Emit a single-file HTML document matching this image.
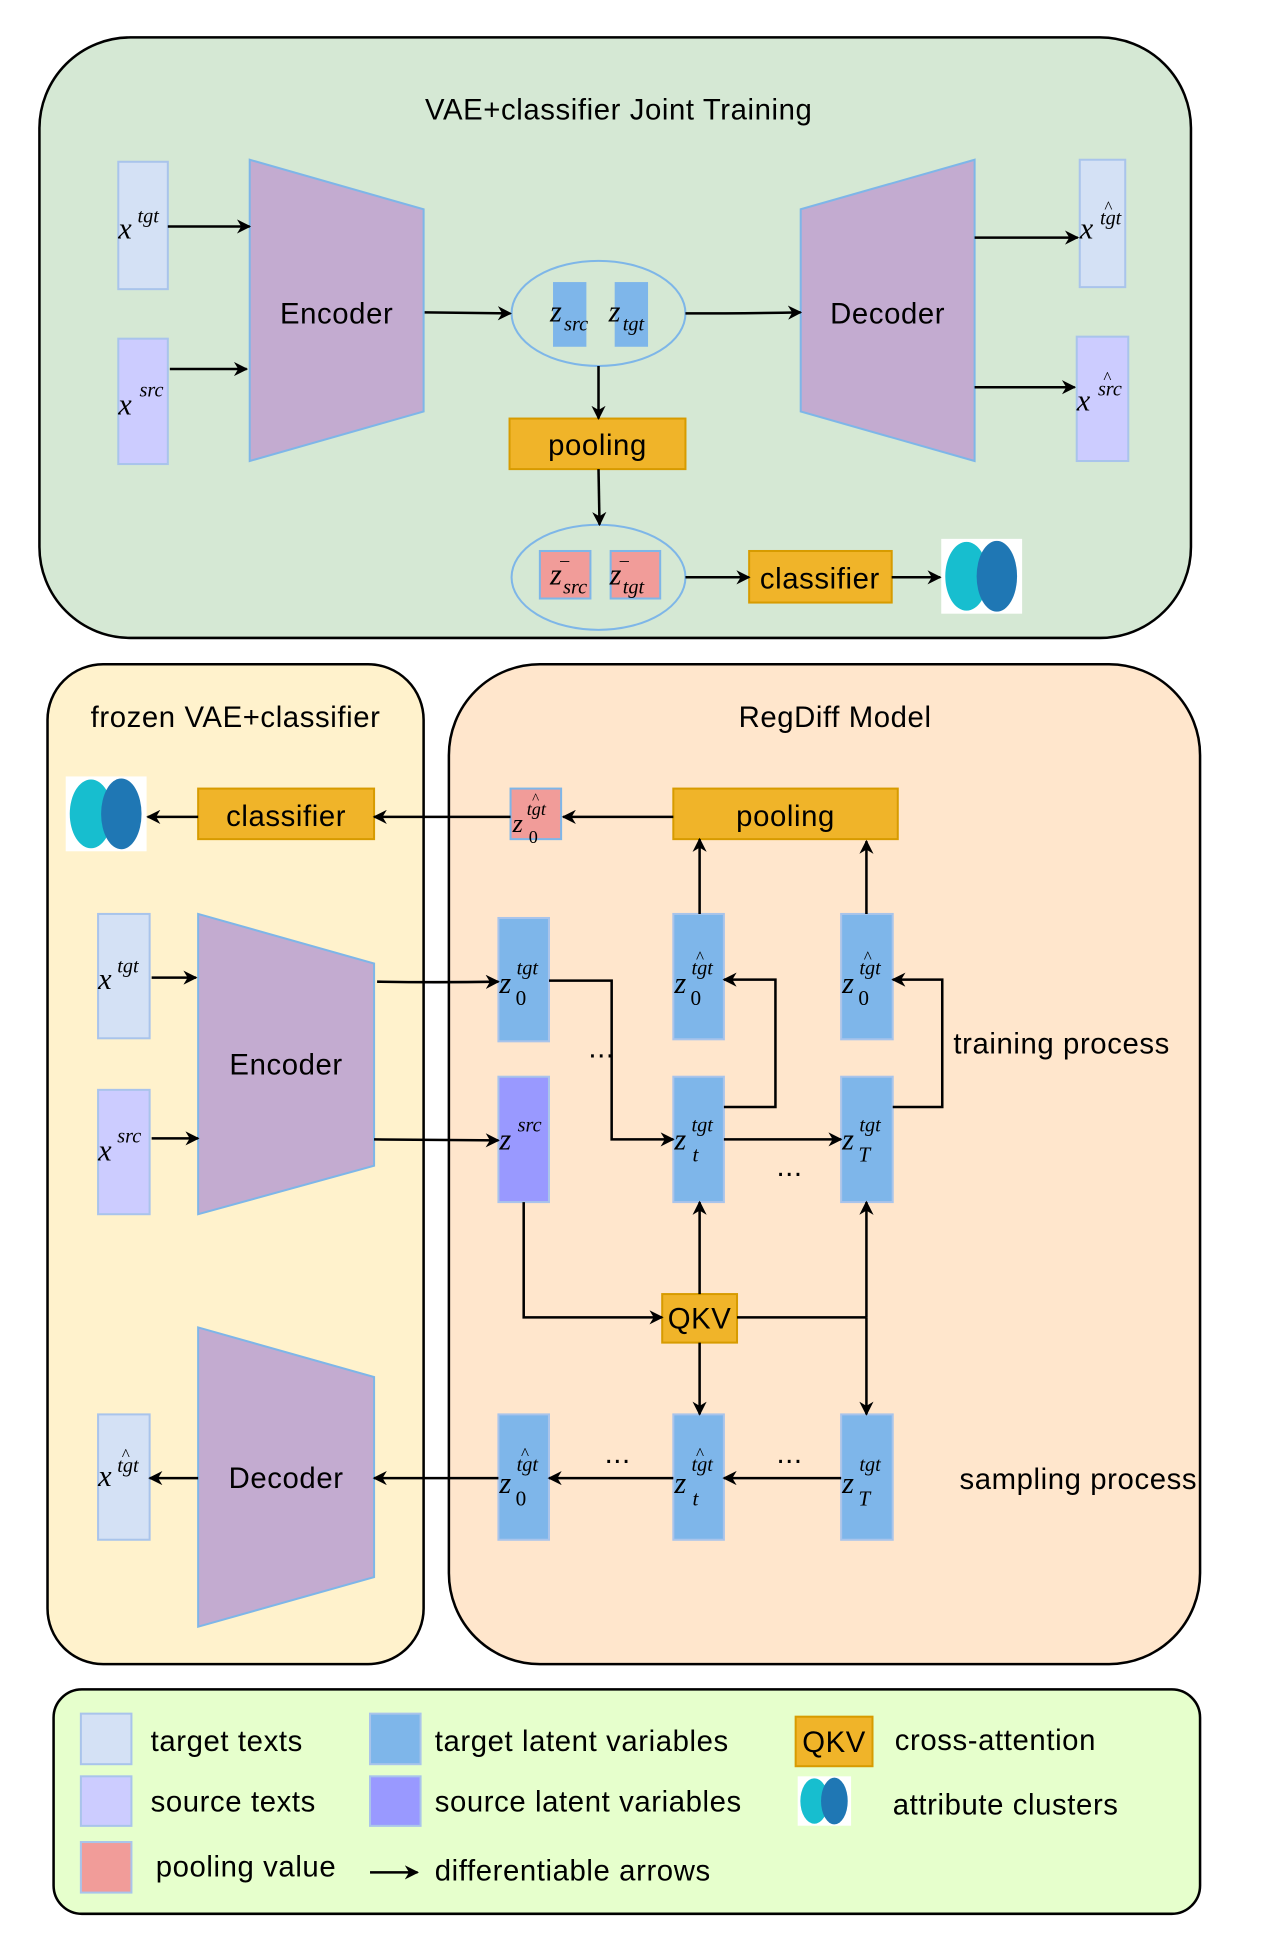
<!DOCTYPE html>
<html><head><meta charset="utf-8"><style>
body{margin:0;background:#fff}
svg{display:block}
.t{font-family:"Liberation Sans",sans-serif;font-size:29px;letter-spacing:0.6px;fill:#000}
.m{font-family:"Liberation Serif",serif;font-style:italic;fill:#000}
</style></head><body>
<svg width="1263" height="1953" viewBox="0 0 1263 1953" xmlns="http://www.w3.org/2000/svg">
<defs>
<marker id="b" viewBox="0 0 10 10" refX="9" refY="5" markerWidth="14" markerHeight="14" markerUnits="userSpaceOnUse" orient="auto"><path d="M0,0 L10,5 L0,10 L3,5 z" fill="#000"/></marker>
<g id="clu"><rect x="0" y="0" width="80" height="74" fill="#fff"/><ellipse cx="25" cy="37" rx="21" ry="34" fill="#17becf"/><ellipse cx="55" cy="37" rx="20" ry="35" fill="#1f77b4"/></g>
</defs>
<g transform="scale(1.011)">
<g stroke="#000" stroke-width="2.5">
<rect x="39" y="37" width="1139" height="594" rx="90" fill="#d5e8d4"/>
<rect x="47" y="657" width="372" height="989" rx="55" fill="#fff2cc"/>
<rect x="444" y="657" width="743" height="989" rx="90" fill="#ffe6cc"/>
<rect x="53" y="1671" width="1134" height="222" rx="28" fill="#e6ffcc"/>
</g>
<text class="t" x="612" y="118" text-anchor="middle">VAE+classifier Joint Training</text>
<text class="t" x="233" y="719" text-anchor="middle">frozen VAE+classifier</text>
<text class="t" x="826" y="719" text-anchor="middle">RegDiff Model</text>

<g stroke-width="2">
<rect x="117" y="160" width="49" height="126" fill="#d4e1f5" stroke="#a9c4eb"/>
<rect x="117" y="335" width="49" height="124" fill="#ccccff" stroke="#a9c4eb"/>
<polygon points="247,158 419,207 419,407 247,456" fill="#c3abd0" stroke="#7eb6e8"/>
<polygon points="792,207 964,158 964,456 792,407" fill="#c3abd0" stroke="#7eb6e8"/>
<rect x="1068" y="158" width="45" height="126" fill="#d4e1f5" stroke="#a9c4eb"/>
<rect x="1065" y="333" width="51" height="123" fill="#ccccff" stroke="#a9c4eb"/>
<ellipse cx="592" cy="310" rx="86" ry="52" fill="none" stroke="#7eb6e8"/>
<rect x="547" y="279" width="33" height="64" fill="#7eb6ea"/>
<rect x="608" y="279" width="33" height="64" fill="#7eb6ea"/>
<ellipse cx="592" cy="571" rx="86" ry="52" fill="none" stroke="#7eb6e8"/>
<rect x="534" y="545" width="50" height="47" fill="#f19c99" stroke="#7eb6e8"/>
<rect x="604" y="545" width="49" height="47" fill="#f19c99" stroke="#7eb6e8"/>
<rect x="504" y="414" width="174" height="50" fill="#f0b429" stroke="#d79b00"/>
<rect x="741" y="545" width="141" height="51" fill="#f0b429" stroke="#d79b00"/>
</g>
<use href="#clu" x="931" y="533"/>
<text class="t" x="333" y="320" text-anchor="middle">Encoder</text>
<text class="t" x="878" y="320" text-anchor="middle">Decoder</text>
<text class="t" x="591" y="450" text-anchor="middle">pooling</text>
<text class="t" x="811" y="582" text-anchor="middle">classifier</text>
<g stroke="#000" stroke-width="2.5" fill="none">
<line x1="166" y1="224" x2="247" y2="224" marker-end="url(#b)"/>
<line x1="168" y1="365" x2="244" y2="365" marker-end="url(#b)"/>
<line x1="420" y1="309" x2="505" y2="310" marker-end="url(#b)"/>
<path d="M678,310 Q740,310 792,309" marker-end="url(#b)"/>
<line x1="964" y1="235" x2="1066" y2="235" marker-end="url(#b)"/>
<line x1="964" y1="383" x2="1063" y2="383" marker-end="url(#b)"/>
<line x1="592" y1="362" x2="592" y2="414" marker-end="url(#b)"/>
<line x1="592" y1="464" x2="593" y2="519" marker-end="url(#b)"/>
<line x1="678" y1="571" x2="741" y2="571" marker-end="url(#b)"/>
<line x1="882" y1="571" x2="930" y2="571" marker-end="url(#b)"/>
</g>
<g class="m">
<text x="117" y="236" font-size="30">x</text><text x="136" y="220" font-size="20">tgt</text>
<text x="117" y="410" font-size="30">x</text><text x="138" y="392" font-size="20">src</text>
<text x="1068" y="236" font-size="30">x</text><text x="1088" y="222" font-size="20">tgt</text><text x="1092" y="210" font-size="17">^</text>
<text x="1065" y="406" font-size="30">x</text><text x="1086" y="391" font-size="20">src</text><text x="1091" y="379" font-size="17">^</text>
<text x="544" y="318" font-size="30">z</text><text x="558" y="327" font-size="20">src</text>
<text x="602" y="318" font-size="30">z</text><text x="616" y="327" font-size="20">tgt</text>
<text x="544" y="578" font-size="30">z</text><text x="557" y="587" font-size="20">src</text><text x="554" y="560" font-size="18" font-style="normal">–</text>
<text x="603" y="578" font-size="30">z</text><text x="616" y="587" font-size="20">tgt</text><text x="613" y="560" font-size="18" font-style="normal">–</text>
</g>

<g stroke-width="2">
<rect x="97" y="904" width="51" height="123" fill="#d4e1f5" stroke="#a9c4eb"/>
<rect x="97" y="1078" width="51" height="123" fill="#ccccff" stroke="#a9c4eb"/>
<rect x="97" y="1399" width="51" height="124" fill="#d4e1f5" stroke="#a9c4eb"/>
<polygon points="196,904 370,953 370,1153 196,1201" fill="#c3abd0" stroke="#7eb6e8"/>
<polygon points="196,1313 370,1362 370,1560 196,1609" fill="#c3abd0" stroke="#7eb6e8"/>
<rect x="196" y="780" width="174" height="50" fill="#f0b429" stroke="#d79b00"/>
<rect x="505" y="780" width="50" height="50" fill="#f19c99" stroke="#7eb6e8"/>
<rect x="666" y="780" width="222" height="50" fill="#f0b429" stroke="#d79b00"/>
<rect x="493" y="908" width="50" height="122" fill="#7eb6ea" stroke="#a9c4eb"/>
<rect x="666" y="904" width="50" height="124" fill="#7eb6ea" stroke="#a9c4eb"/>
<rect x="832" y="904" width="51" height="124" fill="#7eb6ea" stroke="#a9c4eb"/>
<rect x="493" y="1065" width="50" height="124" fill="#9999ff" stroke="#a9c4eb"/>
<rect x="666" y="1065" width="50" height="124" fill="#7eb6ea" stroke="#a9c4eb"/>
<rect x="832" y="1065" width="51" height="124" fill="#7eb6ea" stroke="#a9c4eb"/>
<rect x="493" y="1399" width="50" height="124" fill="#7eb6ea" stroke="#a9c4eb"/>
<rect x="666" y="1399" width="50" height="124" fill="#7eb6ea" stroke="#a9c4eb"/>
<rect x="832" y="1399" width="51" height="124" fill="#7eb6ea" stroke="#a9c4eb"/>
<rect x="655" y="1280" width="74" height="48" fill="#f0b429" stroke="#d79b00"/>
</g>
<use href="#clu" x="65" y="768"/>
<text class="t" x="283" y="817" text-anchor="middle">classifier</text>
<text class="t" x="777" y="817" text-anchor="middle">pooling</text>
<text class="t" x="283" y="1063" text-anchor="middle">Encoder</text>
<text class="t" x="283" y="1472" text-anchor="middle">Decoder</text>
<text class="t" x="692" y="1314" text-anchor="middle">QKV</text>
<text class="t" x="943" y="1042">training process</text>
<text class="t" x="949" y="1473">sampling process</text>
<g class="t"><text x="582" y="1046">...</text><text x="768" y="1163">...</text><text x="598" y="1447">...</text><text x="768" y="1447">...</text></g>
<g stroke="#000" stroke-width="2.5" fill="none">
<line x1="666" y1="808" x2="557" y2="808" marker-end="url(#b)"/>
<line x1="505" y1="808" x2="370" y2="808" marker-end="url(#b)"/>
<line x1="196" y1="808" x2="146" y2="808" marker-end="url(#b)"/>
<line x1="692" y1="904" x2="692" y2="830" marker-end="url(#b)"/>
<line x1="857" y1="904" x2="857" y2="832" marker-end="url(#b)"/>
<line x1="150" y1="967" x2="194" y2="967" marker-end="url(#b)"/>
<line x1="150" y1="1126" x2="196" y2="1126" marker-end="url(#b)"/>
<path d="M373,971 Q430,972 493,971" marker-end="url(#b)"/>
<line x1="370" y1="1127" x2="493" y2="1128" marker-end="url(#b)"/>
<polyline points="543,970 605,970 605,1127 666,1127" marker-end="url(#b)"/>
<line x1="716" y1="1127" x2="832" y2="1127" marker-end="url(#b)"/>
<polyline points="716,1095 767,1095 767,969 716,969" marker-end="url(#b)"/>
<polyline points="883,1095 932,1095 932,969 883,969" marker-end="url(#b)"/>
<polyline points="518,1189 518,1303 655,1303" marker-end="url(#b)"/>
<line x1="692" y1="1280" x2="692" y2="1189" marker-end="url(#b)"/>
<line x1="692" y1="1328" x2="692" y2="1399" marker-end="url(#b)"/>
<line x1="729" y1="1303" x2="857" y2="1303"/>
<line x1="857" y1="1303" x2="857" y2="1189" marker-end="url(#b)"/>
<line x1="857" y1="1303" x2="857" y2="1399" marker-end="url(#b)"/>
<line x1="832" y1="1462" x2="716" y2="1462" marker-end="url(#b)"/>
<line x1="666" y1="1462" x2="543" y2="1462" marker-end="url(#b)"/>
<line x1="493" y1="1462" x2="370" y2="1462" marker-end="url(#b)"/>
<line x1="196" y1="1462" x2="148" y2="1462" marker-end="url(#b)"/>
</g>
<g class="m">
<text x="97" y="978" font-size="30">x</text><text x="116" y="962" font-size="20">tgt</text>
<text x="97" y="1148" font-size="30">x</text><text x="116" y="1130" font-size="20">src</text>
<text x="97" y="1470" font-size="30">x</text><text x="116" y="1456" font-size="20">tgt</text><text x="120" y="1444" font-size="17">^</text>
<text x="507" y="823" font-size="26">z</text><text x="521" y="806" font-size="18">tgt</text><text x="526" y="795" font-size="15">^</text><text x="523" y="834" font-size="18" font-style="normal">0</text>
<g font-size="30">
<text x="494" y="982">z</text><text x="494" y="1137">z</text><text x="494" y="1477">z</text>
<text x="667" y="982">z</text><text x="667" y="1137">z</text><text x="667" y="1477">z</text>
<text x="833" y="982">z</text><text x="833" y="1137">z</text><text x="833" y="1477">z</text>
</g>
<g font-size="20">
<text x="511" y="964">tgt</text><text x="512" y="1119">src</text><text x="511" y="1455">tgt</text>
<text x="684" y="964">tgt</text><text x="684" y="1119">tgt</text><text x="684" y="1455">tgt</text>
<text x="850" y="964">tgt</text><text x="850" y="1119">tgt</text><text x="850" y="1455">tgt</text>
</g>
<g font-size="17"><text x="688" y="952">^</text><text x="854" y="952">^</text><text x="515" y="1443">^</text><text x="688" y="1443">^</text></g>
<g font-size="21" font-style="normal"><text x="510" y="994">0</text><text x="683" y="994">0</text><text x="849" y="994">0</text><text x="510" y="1489">0</text></g>
<g font-size="21"><text x="685" y="1149">t</text><text x="849" y="1149">T</text><text x="685" y="1489">t</text><text x="849" y="1489">T</text></g>
</g>

<g stroke-width="2">
<rect x="80" y="1695" width="50" height="50" fill="#d4e1f5" stroke="#a9c4eb"/>
<rect x="80" y="1757" width="50" height="49" fill="#ccccff" stroke="#a9c4eb"/>
<rect x="80" y="1822" width="50" height="50" fill="#f19c99" stroke="#a9c4eb"/>
<rect x="366" y="1695" width="50" height="50" fill="#7eb6ea" stroke="#a9c4eb"/>
<rect x="366" y="1757" width="50" height="49" fill="#9999ff" stroke="#a9c4eb"/>
<rect x="787" y="1698" width="76" height="49" fill="#f0b429" stroke="#d79b00"/>
</g>
<use href="#clu" x="789" y="1757" transform="translate(789,1757) scale(0.66) translate(-789,-1757)"/>
<line x1="366" y1="1852" x2="413" y2="1852" stroke="#000" stroke-width="2.5" marker-end="url(#b)"/>
<g class="t">
<text x="149" y="1732">target texts</text>
<text x="149" y="1792">source texts</text>
<text x="154" y="1856">pooling value</text>
<text x="430" y="1732">target latent variables</text>
<text x="430" y="1792">source latent variables</text>
<text x="430" y="1860">differentiable arrows</text>
<text x="825" y="1733" text-anchor="middle">QKV</text>
<text x="885" y="1731">cross-attention</text>
<text x="883" y="1795">attribute clusters</text>
</g>
</g>
</svg>
</body></html>
